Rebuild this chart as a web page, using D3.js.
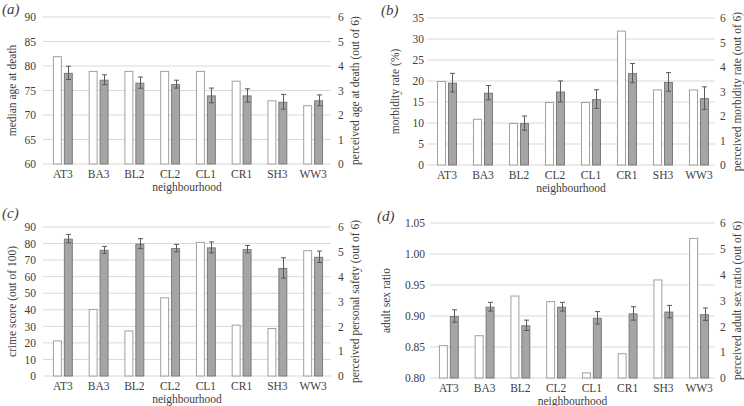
<!DOCTYPE html>
<html><head><meta charset="utf-8">
<script src="https://cdn.jsdelivr.net/npm/d3@7"></script>
<style>
body{margin:0;background:#fff}
text{font-family:"Liberation Serif","Times New Roman",serif;fill:#404040}
</style></head>
<body>
<svg id="c" width="744" height="406"></svg>
<script>
const categories = ["AT3","BA3","BL2","CL2","CL1","CR1","SH3","WW3"];

// (a)
const ageActual = [82,79,79,79,79,77,73,72];
const agePerceived = [3.72,3.44,3.32,3.26,2.80,2.80,2.54,2.60];
const agePerceivedErr = [0.27,0.20,0.23,0.16,0.30,0.27,0.30,0.22];
const ageTicks = [60,65,70,75,80,85,90];

// (b)
const morbActual = [20,11,10,15,15,32,18,18];
const morbPerceived = [3.36,2.95,1.71,3.00,2.69,3.75,3.39,2.73];
const morbPerceivedErr = [0.38,0.29,0.29,0.43,0.38,0.39,0.38,0.46];
const morbTicks = [0,5,10,15,20,25,30,35];

// (c)
const crimeActual = [21.5,40.5,27.5,47.5,81,31,29,76];
const crimePerceived = [5.53,5.08,5.33,5.15,5.18,5.11,4.35,4.80];
const crimePerceivedErr = [0.17,0.14,0.20,0.15,0.22,0.15,0.41,0.23];
const crimeTicks = [0,10,20,30,40,50,60,70,80,90];

// (d)
const sexActual = [0.853,0.869,0.933,0.924,0.809,0.840,0.959,1.026];
const sexPerceived = [2.40,2.76,2.04,2.76,2.33,2.50,2.57,2.47];
const sexPerceivedErr = [0.24,0.17,0.20,0.17,0.24,0.26,0.24,0.24];
const sexTicks = [0.80,0.85,0.90,0.95,1.00,1.05];

const rightTicks = [0,1,2,3,4,5,6];

const svg = d3.select("#c");

function panel(o){
  const g = svg.append("g");
  const y = d3.scaleLinear().domain(o.leftDomain).range([o.y1, o.y0]);
  const yr = d3.scaleLinear().domain([0,6]).range([o.y1, o.y0]);
  const x = d3.scaleBand().domain(categories).range([o.bx0, o.bx1]).paddingInner(0.444).paddingOuter(0.222);
  const xi = d3.scaleBand().domain(["a","p"]).range([0, x.bandwidth()]).paddingInner(0.18);

  // gridlines
  g.append("g").selectAll("line").data(o.leftTicks).join("line")
    .attr("x1", o.gx0).attr("x2", o.gx1)
    .attr("y1", d=>y(d)).attr("y2", d=>y(d))
    .attr("stroke", "#d9d9d9").attr("stroke-width", 1);

  // left axis (labels only)
  const la = d3.axisLeft(y).tickValues(o.leftTicks).tickFormat(o.fmt).tickSize(0).tickPadding(0);
  const lag = g.append("g").attr("transform", `translate(${o.lx},0)`).call(la);
  lag.select(".domain").remove();
  lag.selectAll("text").attr("font-size", 11.5).attr("fill","#404040").style("font-family","Liberation Serif");

  const ra = d3.axisRight(yr).tickValues(rightTicks).tickFormat(d3.format("d")).tickSize(0).tickPadding(0);
  const rag = g.append("g").attr("transform", `translate(${o.rx},0)`).call(ra);
  rag.select(".domain").remove();
  rag.selectAll("text").attr("font-size", 11.5).attr("fill","#404040").style("font-family","Liberation Serif");

  // actual bars (white)
  g.append("g").selectAll("rect").data(o.actual).join("rect")
    .attr("x", (d,i)=>x(categories[i]) + xi("a") + 0.5)
    .attr("width", xi.bandwidth() - 1)
    .attr("y", d=>y(d) + 0.5)
    .attr("height", d=>y(o.leftDomain[0]) - y(d) - 0.5)
    .attr("fill", "#fff").attr("stroke", "#a0a0a0").attr("stroke-width", 1);

  // perceived bars (grey)
  g.append("g").selectAll("rect").data(o.perceived).join("rect")
    .attr("x", (d,i)=>x(categories[i]) + xi("p") + 0.5)
    .attr("width", xi.bandwidth() - 1)
    .attr("y", d=>yr(d) + 0.5)
    .attr("height", d=>yr(0) - yr(d) - 0.5)
    .attr("fill", "#a5a5a5").attr("stroke", "#7a7a7a").attr("stroke-width", 1);

  // error bars
  const eb = g.append("g").attr("stroke", "#595959").attr("stroke-width", 1);
  o.perceived.forEach((d,i)=>{
    const cx = Math.round(x(categories[i]) + xi("p") + xi.bandwidth()/2) + 0.5;
    const e = o.err[i];
    eb.append("line").attr("x1",cx).attr("x2",cx).attr("y1",yr(d+e)).attr("y2",yr(d-e));
    eb.append("line").attr("x1",cx-2.5).attr("x2",cx+2.5).attr("y1",yr(d+e)).attr("y2",yr(d+e));
    eb.append("line").attr("x1",cx-2.5).attr("x2",cx+2.5).attr("y1",yr(d-e)).attr("y2",yr(d-e));
  });

  // category labels
  g.append("g").selectAll("text").data(categories).join("text")
    .attr("x", d=>x(d) + x.bandwidth()/2)
    .attr("y", o.y1 + 14)
    .attr("text-anchor","middle").attr("font-size", 11.5).text(d=>d);

  g.append("text").attr("x", (o.gx0+o.gx1)/2).attr("y", o.y1 + 27)
    .attr("text-anchor","middle").attr("font-size", 11.5).text("neighbourhood");

  g.append("text").attr("transform", `translate(${o.ltx},${(o.y0+o.y1)/2}) rotate(-90)`)
    .attr("text-anchor","middle").attr("font-size", 11.5).text(o.leftTitle);
  g.append("text").attr("transform", `translate(${o.rtx},${(o.y0+o.y1)/2}) rotate(-90)`)
    .attr("text-anchor","middle").attr("font-size", 11.5).text(o.rightTitle);

  g.append("text").attr("x", o.px).attr("y", o.py).attr("font-size", 15)
    .attr("font-style","italic").text(o.tag);
}

panel({tag:"(a)", px:2, py:14,
  leftDomain:[60,90], leftTicks:ageTicks, fmt:d3.format("d"),
  actual:ageActual, perceived:agePerceived, err:agePerceivedErr,
  y0:17, y1:164, gx0:43, gx1:331, bx0:45, bx1:331,
  lx:36, rx:338, ltx:16, rtx:359,
  leftTitle:"median age at death", rightTitle:"perceived age at death (out of 6)"});

panel({tag:"(b)", px:381, py:15,
  leftDomain:[0,35], leftTicks:morbTicks, fmt:d3.format("d"),
  actual:morbActual, perceived:morbPerceived, err:morbPerceivedErr,
  y0:18, y1:165, gx0:427, gx1:715, bx0:429, bx1:717,
  lx:424, rx:720, ltx:399, rtx:741,
  leftTitle:"morbidity rate (%)", rightTitle:"perceived morbidity rate (out of 6)"});

panel({tag:"(c)", px:2, py:218,
  leftDomain:[0,90], leftTicks:crimeTicks, fmt:d3.format("d"),
  actual:crimeActual, perceived:crimePerceived, err:crimePerceivedErr,
  y0:227, y1:376, gx0:43, gx1:331, bx0:45, bx1:331,
  lx:36, rx:338, ltx:16, rtx:359,
  leftTitle:"crime score (out of 100)", rightTitle:"perceived personal safety (out of 6)"});

panel({tag:"(d)", px:377, py:221,
  leftDomain:[0.80,1.05], leftTicks:sexTicks, fmt:d3.format(".2f"),
  actual:sexActual, perceived:sexPerceived, err:sexPerceivedErr,
  y0:223, y1:378, gx0:430, gx1:715, bx0:431, bx1:717,
  lx:425, rx:720, ltx:390, rtx:741,
  leftTitle:"adult sex ratio", rightTitle:"perceived adult sex ratio (out of 6)"});
</script>
</body></html>
